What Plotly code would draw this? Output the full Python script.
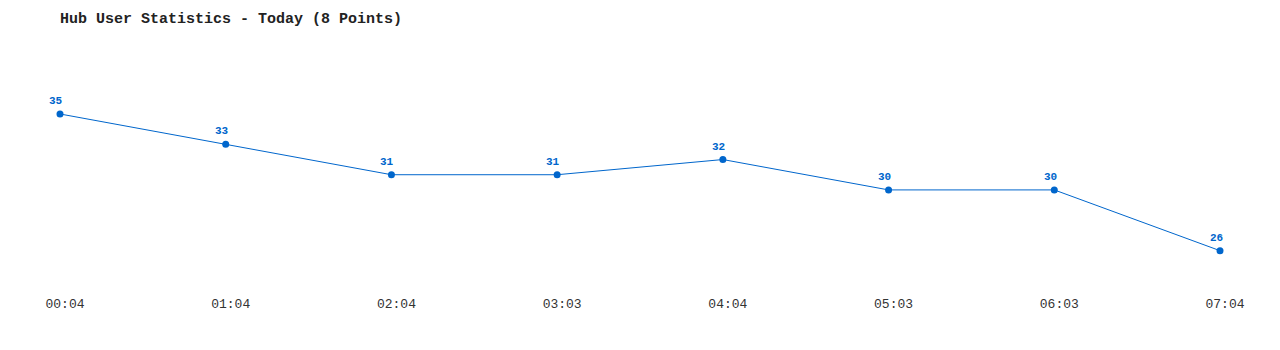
import plotly.graph_objects as go

times = ["00:04", "01:04", "02:04", "03:03", "04:04", "05:03", "06:03", "07:04"]
users = [35, 33, 31, 31, 32, 30, 30, 26]

BLUE = "#0066cc"
MONO = "Liberation Mono, DejaVu Sans Mono, monospace"

xs = list(range(len(times)))

fig = go.Figure()
fig.add_trace(go.Scatter(
    x=xs, y=users,
    mode="lines+markers",
    line=dict(color=BLUE, width=1),
    marker=dict(color=BLUE, size=7),
    cliponaxis=False,
    hoverinfo="skip",
))

for x, v in zip(xs, users):
    fig.add_annotation(x=x, y=v, text=str(v), showarrow=False,
                       xanchor="center", yanchor="bottom", xshift=-4, yshift=5,
                       font=dict(family=MONO, size=11, color=BLUE, weight="bold"))

fig.update_layout(
    width=1280, height=350,
    margin=dict(l=60, r=60, t=40, b=70),
    paper_bgcolor="white", plot_bgcolor="white",
    showlegend=False,
    title=dict(text="Hub User Statistics - Today (8 Points)", x=60/1280, xanchor="left",
               y=1 - 18/350, yanchor="middle",
               font=dict(family=MONO, size=15, color="#222222", weight="bold")),
    xaxis=dict(range=[0, 7], tickmode="array", tickvals=xs, ticktext=times,
               showgrid=False, zeroline=False, showline=False, ticks="",
               tickfont=dict(family=MONO, size=13, color="#333333"),
               ticklabelstandoff=14, ticklabelshift=5),
    yaxis=dict(range=[24.07, 39.87], visible=False, showgrid=False, zeroline=False),
)

fig.write_html("out.html")
